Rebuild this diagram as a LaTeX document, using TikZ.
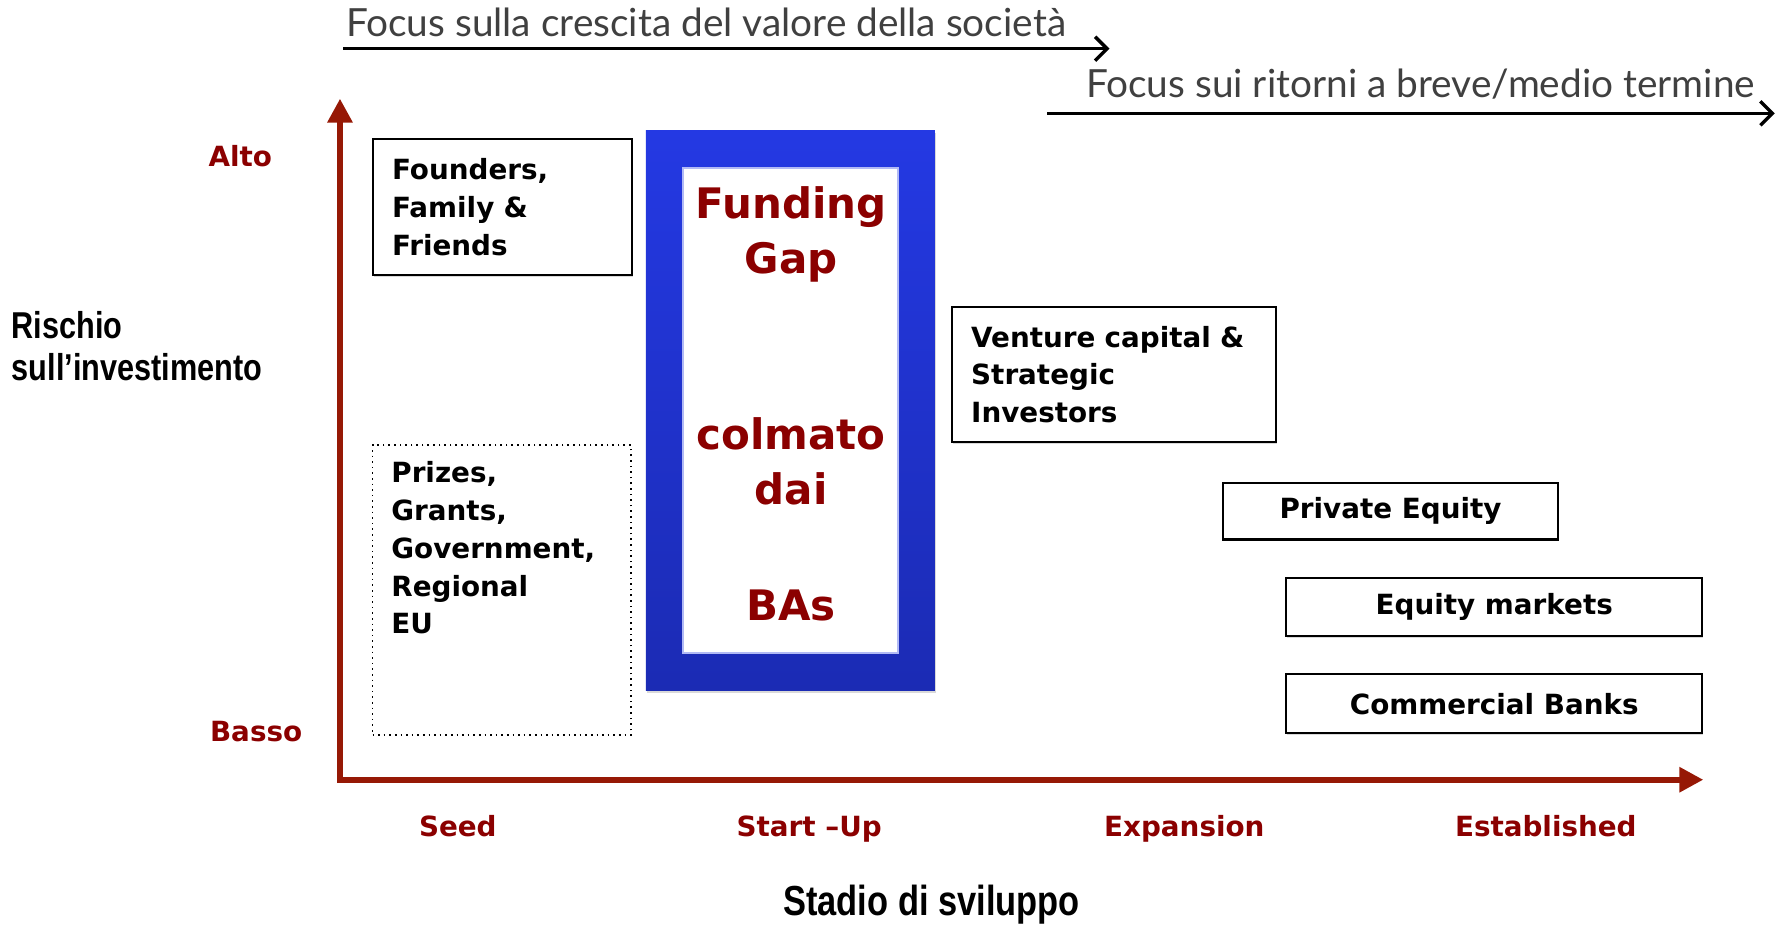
\documentclass[tikz,border=0pt]{standalone}
\usepackage{fontspec}
\setmainfont{DejaVu Sans}
\newfontfamily\narrowfont[FakeStretch = 0.82]{Liberation Sans}
\newfontfamily\focusfont{Lato}
\usetikzlibrary{arrows.meta, shadows}

\definecolor{axisred}{HTML}{961805}
\definecolor{labelred}{HTML}{8B0000}
\definecolor{gapblue}{HTML}{2439E3}
\definecolor{gapbluedark}{HTML}{1B2BB4}
\definecolor{focusgray}{HTML}{404040}

% one unit of the picture
\newcommand{\pxu}{0.5667pt}
\newcommand{\boxfont}{\fontsize{13.9}{18.9}\selectfont\bfseries}

\tikzset{
  focustext/.style = {font = \focusfont\fontsize{19.4}{22}\selectfont, text = focusgray, inner sep = 0pt},
  focusarrow/.style = {line width = 1.7pt, -{Straight Barb[length = 6pt, width = 12pt]}},
  axis/.style = {axisred, line width = 3.2pt, line join = miter,
    {Triangle[length = 12pt, width = 12pt]}-{Triangle[length = 12pt, width = 12pt]}},
  stagelabel/.style = {font = \boxfont, text = labelred, inner sep = 0pt, anchor = base},
  axistitle/.style = {font = \narrowfont\bfseries\fontsize{18.7}{21}\selectfont, inner sep = 0pt},
  fundbox/.style = {draw, fill = white, line width = 1.1pt, font = \boxfont,
    drop shadow = {shadow xshift = 0.4pt, shadow yshift = -1pt, opacity = 0.3}},
  gaptext/.style = {font = \fontsize{21}{27.2}\selectfont\bfseries, text = labelred, align = center, inner sep = 0pt},
}

\begin{document}
\begin{tikzpicture}[x = 0.5667pt, y = -0.5667pt]
\useasboundingbox (0, 0) rectangle (1568, 818);

% focus of the investors, on top
\node[focustext, anchor = base west] (growth) at (305, 32) {Focus sulla crescita del valore della società};
\coordinate (growthstart) at (303, 43);
\coordinate (growthend) at (979, 43);
\draw[focusarrow] (growthstart) -- (growthend);
\node[focustext, anchor = base west] (returns) at (958, 86) {Focus sui ritorni a breve/medio termine};
\coordinate (returnsstart) at (924, 100);
\coordinate (returnsend) at (1566, 100);
\draw[focusarrow] (returnsstart) -- (returnsend);

% axes
\coordinate (ytop) at (300, 87);
\coordinate (origin) at (300, 688);
\coordinate (xend) at (1503, 688);
\draw[axis] (ytop) -- (origin) -- (xend);

\node[stagelabel] (alto) at (212, 147) {Alto};
\node[stagelabel] (basso) at (226, 654) {Basso};
\node[axistitle, anchor = west, align = left] (rischio) at (10, 305) {Rischio\\sull’investimento};
\node[axistitle, font = \narrowfont\bfseries\fontsize{21}{24}\selectfont] (stadio) at (822, 798) {Stadio di sviluppo};

\node[stagelabel] (seed) at (404, 738) {Seed};
\node[stagelabel] (startup) at (714, 738) {Start –Up};
\node[stagelabel] (expansion) at (1045, 738) {Expansion};
\node[stagelabel] (established) at (1364, 738) {Established};

% sources of funding
\node[fundbox, anchor = north west, minimum width = 229*\pxu, minimum height = 120*\pxu,
  inner xsep = 17*\pxu, text width = 195*\pxu, align = left] (founders) at (328, 122)
  {Founders,\\Family \&\\Friends};
\node[draw, dotted, line width = 0.8pt, anchor = north west, minimum width = 228*\pxu,
  minimum height = 256*\pxu] (prizes) at (328, 392) {};
\node[font = \boxfont, anchor = north west, align = left, inner sep = 0pt] (prizestext) at (345, 407)
  {Prizes,\\Grants,\\Government,\\Regional\\EU};
\node[fundbox, anchor = north west, minimum width = 286*\pxu, minimum height = 119*\pxu,
  inner xsep = 17*\pxu, text width = 252*\pxu, align = left] (venture) at (839, 270)
  {Venture capital \&\\Strategic\\Investors};
\node[fundbox, minimum width = 296*\pxu, minimum height = 50*\pxu] (private) at (1227, 451) {Private Equity};
\node[fundbox, minimum width = 367*\pxu, minimum height = 51*\pxu] (markets) at (1318.5, 535.5) {Equity markets};
\node[fundbox, minimum width = 367*\pxu, minimum height = 52*\pxu] (banks) at (1318.5, 621) {Commercial Banks};

% the funding gap
\node[top color = gapblue, bottom color = gapbluedark, minimum width = 255*\pxu, minimum height = 494*\pxu,
  drop shadow = {shadow xshift = 0.6pt, shadow yshift = -1.2pt, opacity = 0.3}] (gap) at (697.5, 362) {};
\node[fill = white, draw = gapblue!35, line width = 1pt, minimum width = 189*\pxu, minimum height = 428*\pxu] (gapinner) at (gap) {};
\node[gaptext] (gaptitle) at (698, 207) {Funding\\Gap};
\node[gaptext] (gapfilled) at (698, 407) {colmato\\dai};
\node[gaptext] (gapbas) at (698, 534) {BAs};
\end{tikzpicture}
\end{document}
